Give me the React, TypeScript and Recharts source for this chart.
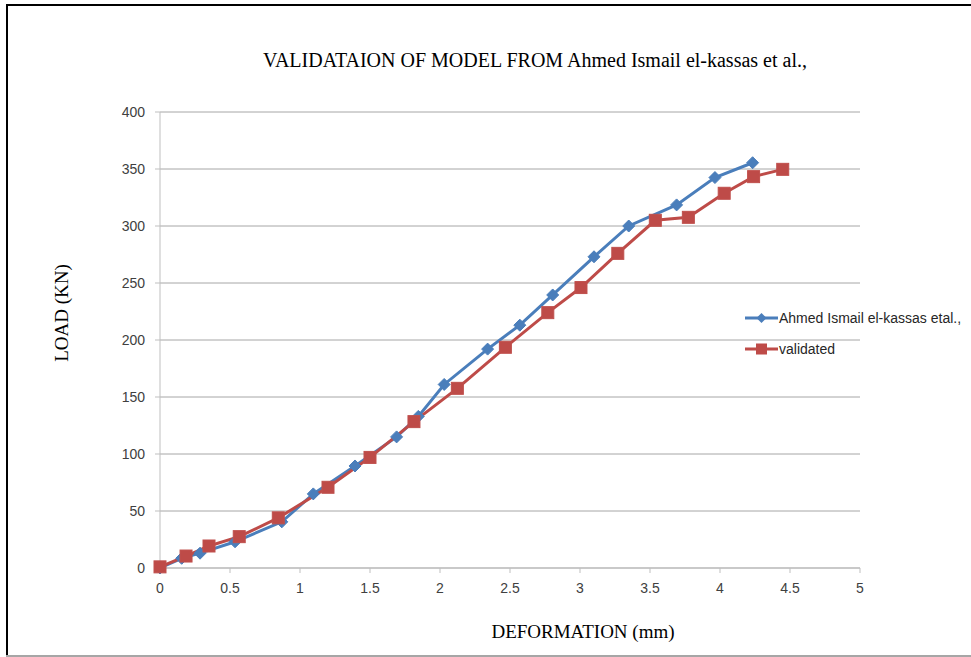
import { LineChart, Line, XAxis, YAxis, CartesianGrid, Legend } from "recharts";

// Ahmed Ismail el-kassas et al. (experimental)
const refDeformation = [0, 0.155, 0.286, 0.536, 0.87, 1.095, 1.393, 1.69, 1.845, 2.03, 2.34, 2.57, 2.805, 3.1, 3.348, 3.69, 3.964, 4.233];
const refLoad = [0, 8.5, 13, 23, 40.5, 65, 89.5, 115, 133, 161, 192, 213, 239.5, 273, 300, 318.5, 342.5, 355.5];

// validated model
const valDeformation = [0, 0.186, 0.35, 0.566, 0.845, 1.2, 1.5, 1.814, 2.124, 2.467, 2.77, 3.007, 3.27, 3.538, 3.774, 4.03, 4.24, 4.448];
const valLoad = [1, 10.5, 19.3, 27.5, 44, 70.8, 97, 128.4, 157.6, 193.6, 224, 246, 276, 305, 307.6, 328.7, 343.3, 349.7];

const xTicks = [0, 0.5, 1, 1.5, 2, 2.5, 3, 3.5, 4, 4.5, 5];
const yTicks = [0, 50, 100, 150, 200, 250, 300, 350, 400];

const BLUE = "#4a7ebb";
const RED = "#be4b48";

const refData = refDeformation.map((x, i) => ({ x, y: refLoad[i] }));
const valData = valDeformation.map((x, i) => ({ x, y: valLoad[i] }));

const tickStyle = { fontFamily: "'Liberation Sans', Arial, sans-serif", fontSize: 14, fill: "#404040" };
const serif = "'Liberation Serif', 'Times New Roman', serif";

const Diamond = (props: any) => {
  const { cx, cy } = props;
  if (cx == null || cy == null) return null;
  const r = 6;
  return <path d={`M${cx},${cy - r}L${cx + r},${cy}L${cx},${cy + r}L${cx - r},${cy}Z`} fill={BLUE} stroke={BLUE} strokeWidth={1} />;
};

const Square = (props: any) => {
  const { cx, cy } = props;
  if (cx == null || cy == null) return null;
  const h = 6;
  return <rect x={cx - h} y={cy - h} width={h * 2} height={h * 2} fill={RED} stroke="#c0504d" strokeWidth={1} />;
};

const LegendContent = () => {
  const items = [
    { label: "Ahmed Ismail el-kassas etal.,", color: BLUE, kind: "diamond" },
    { label: "validated", color: RED, kind: "square" },
  ];
  return (
    <div style={{ fontFamily: "'Liberation Sans', Arial, sans-serif", fontSize: 14, color: "#262626" }}>
      {items.map((it) => (
        <div key={it.label} style={{ display: "flex", alignItems: "center", height: 31 }}>
          <svg width={33} height={14} style={{ marginRight: 1 }}>
            <line x1={0} y1={7} x2={33} y2={7} stroke={it.color} strokeWidth={3} />
            {it.kind === "diamond" ? (
              <path d="M16.5,2L21.5,7L16.5,12L11.5,7Z" fill={it.color} />
            ) : (
              <rect x={11} y={1.5} width={11} height={11} fill={it.color} />
            )}
          </svg>
          <span>{it.label}</span>
        </div>
      ))}
    </div>
  );
};

export default function App() {
  return (
    <div style={{ position: "absolute", left: 0, top: 0, width: 971, height: 657, background: "#fff", overflow: "hidden" }}>
      {/* frame */}
      <div style={{ position: "absolute", left: 6, top: 4, width: 965, height: 2, background: "#000" }} />
      <div style={{ position: "absolute", left: 6, top: 4, width: 2, height: 652, background: "#000" }} />
      <div style={{ position: "absolute", left: 6, top: 655, width: 965, height: 2, background: "#a6a6a6" }} />

      <LineChart width={971} height={657} margin={{ top: 112, right: 111, left: 0, bottom: 0 }}>
        <CartesianGrid vertical={false} stroke="#a6a6a6" strokeWidth={1} />
        <XAxis
          type="number"
          dataKey="x"
          domain={[0, 5]}
          ticks={xTicks}
          interval={0}
          height={89}
          stroke="#bfbfbf"
          tickSize={5}
          tickMargin={10}
          tick={tickStyle}
          allowDuplicatedCategory={false}
        />
        <YAxis
          type="number"
          dataKey="y"
          domain={[0, 400]}
          ticks={yTicks}
          interval={0}
          width={160}
          stroke="#bfbfbf"
          tickSize={5}
          tickMargin={10}
          tick={tickStyle}
        />
        <Legend
          layout="vertical"
          align="center"
          verticalAlign="middle"
          wrapperStyle={{ left: 745, top: 302, width: 230 }}
          content={<LegendContent />}
        />
        <Line
          data={refData}
          dataKey="y"
          name="Ahmed Ismail el-kassas etal.,"
          stroke={BLUE}
          strokeWidth={3}
          dot={<Diamond />}
          activeDot={false}
          isAnimationActive={false}
        />
        <Line
          data={valData}
          dataKey="y"
          name="validated"
          stroke={RED}
          strokeWidth={3}
          dot={<Square />}
          activeDot={false}
          isAnimationActive={false}
        />
      </LineChart>

      <div style={{ position: "absolute", left: 0, width: 1070, top: 47, textAlign: "center", fontFamily: serif, fontSize: 20, lineHeight: "26px", color: "#000" }}>
        VALIDATAION OF MODEL FROM Ahmed Ismail el-kassas et al.,
      </div>
      <div style={{ position: "absolute", left: 383, width: 400, top: 619, textAlign: "center", fontFamily: serif, fontSize: 19, lineHeight: "26px", color: "#000" }}>
        DEFORMATION (mm)
      </div>
      <div style={{ position: "absolute", left: 62, top: 313, width: 0, height: 0 }}>
        <div style={{ position: "absolute", left: -100, top: -13, width: 200, textAlign: "center", transform: "rotate(-90deg)", fontFamily: serif, fontSize: 19, color: "#000", lineHeight: "26px" }}>
          LOAD (KN)
        </div>
      </div>
    </div>
  );
}
